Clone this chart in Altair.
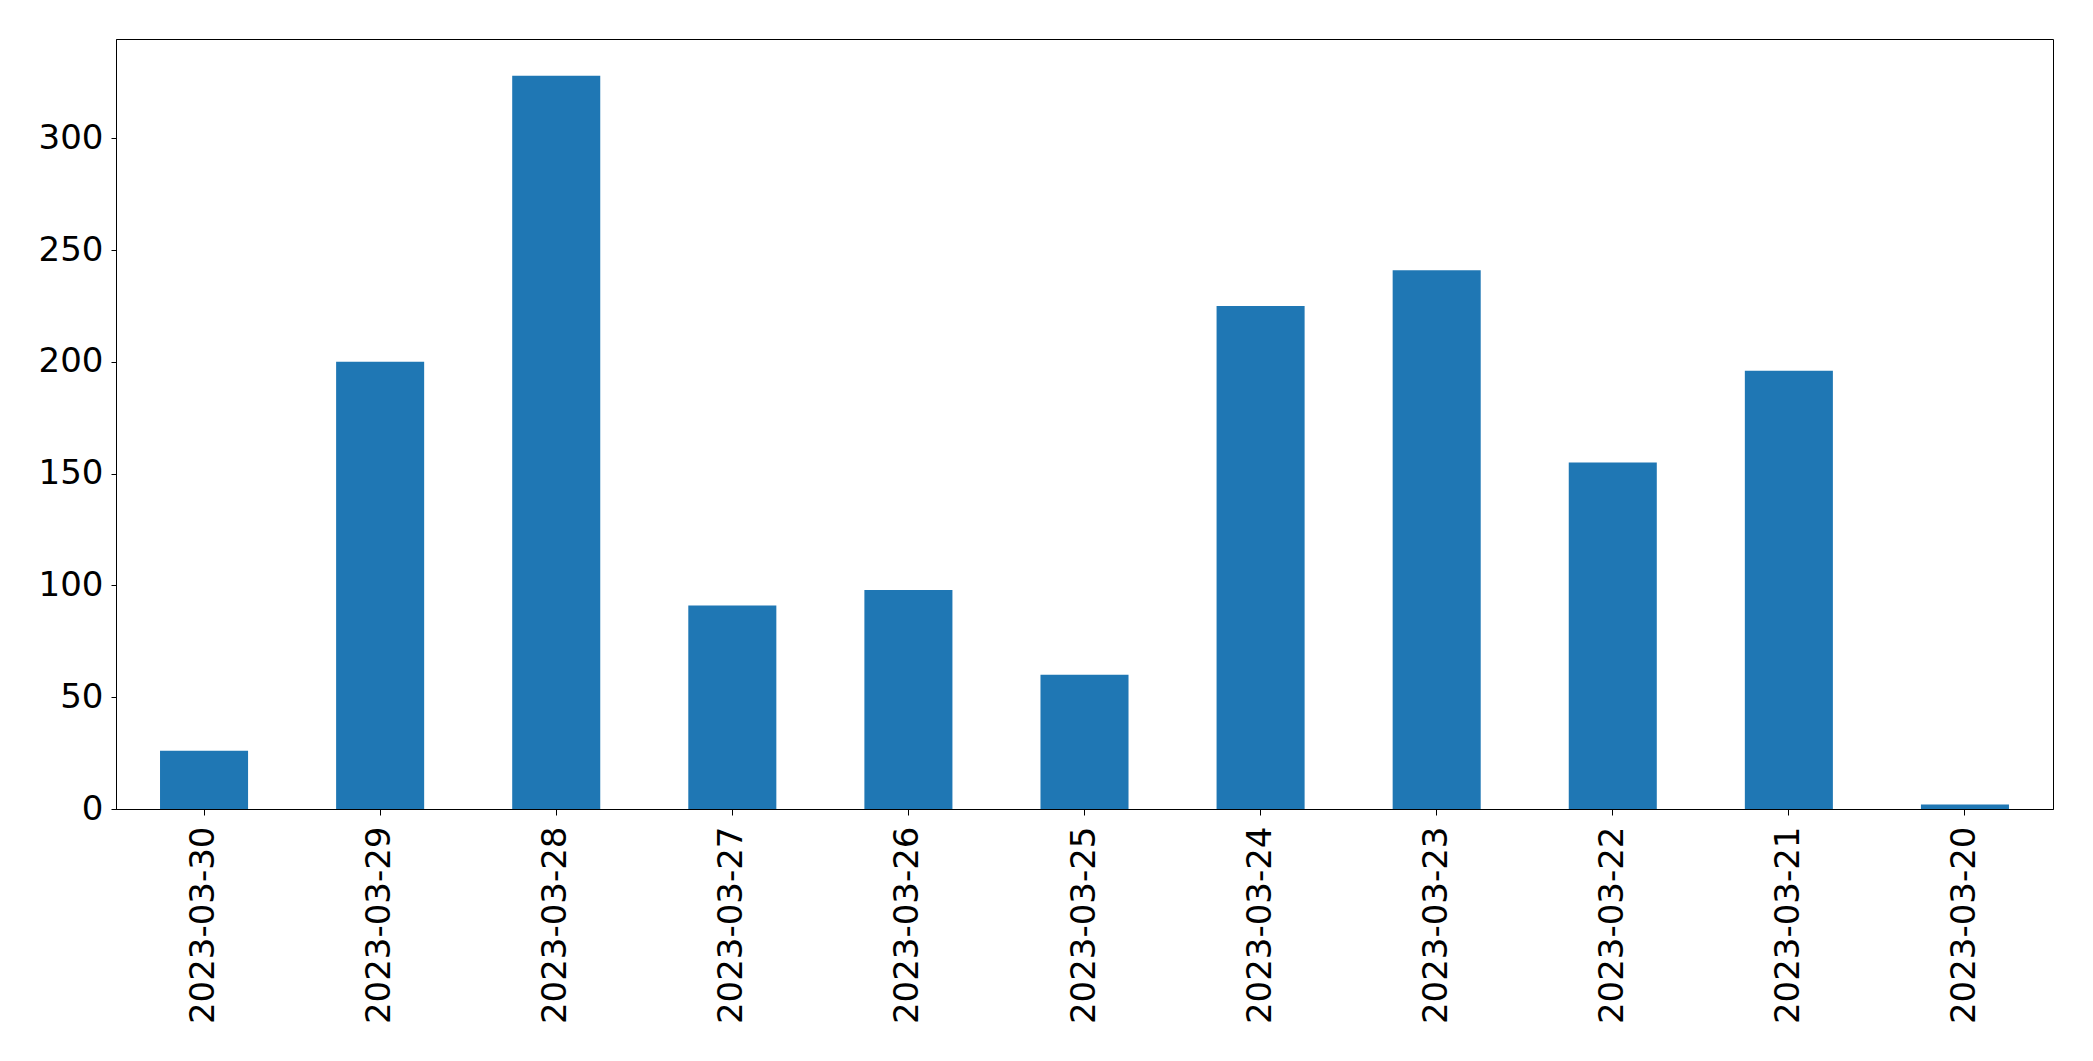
import altair as alt
import pandas as pd

dates = ["2023-03-30", "2023-03-29", "2023-03-28", "2023-03-27", "2023-03-26",
         "2023-03-25", "2023-03-24", "2023-03-23", "2023-03-22", "2023-03-21",
         "2023-03-20"]
counts = [26, 200, 328, 91, 98, 60, 225, 241, 155, 196, 2]
y_ticks = [0, 50, 100, 150, 200, 250, 300]

df = pd.DataFrame({"date": dates, "count": counts})

FONT = "DejaVu Sans"

chart = alt.Chart(df).mark_bar(color="#1f77b4").encode(
    x=alt.X("date:N", sort=dates, title=None,
            scale=alt.Scale(paddingInner=0.5, paddingOuter=0.25),
            axis=alt.Axis(labelAngle=270, labelFont=FONT, labelFontSize=34,
                          labelLimit=0,
                          labelColor="black", tickColor="black", tickSize=6,
                          tickWidth=1, labelPadding=11, domainColor="black",
                          domainWidth=1, grid=False)),
    y=alt.Y("count:Q", title=None,
            scale=alt.Scale(domain=[0, 344.4], nice=False, zero=True),
            axis=alt.Axis(values=y_ticks, labelFont=FONT, labelFontSize=34,
                          labelColor="black", tickColor="black", tickSize=5,
                          tickWidth=1, labelPadding=8, domainColor="black",
                          domainWidth=1, grid=False)),
).properties(
    width=1937, height=770,
    background="white",
    autosize=alt.AutoSizeParams(type="none"),
    padding={"left": 116, "top": 39, "right": 40, "bottom": 252},
).configure_view(stroke="black", strokeWidth=1)

chart.save("out.html", embed_options={"renderer": "svg", "actions": False})
